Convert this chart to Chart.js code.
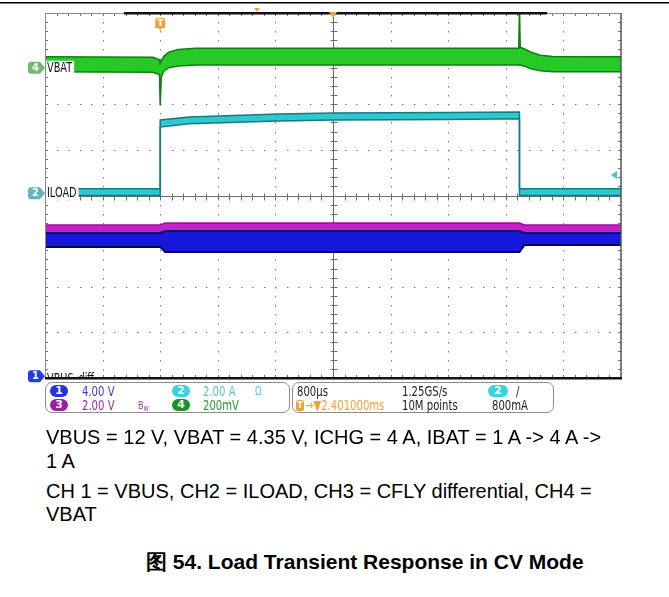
<!DOCTYPE html>
<html>
<head>
<meta charset="utf-8">
<script src="https://cdn.jsdelivr.net/npm/chart.js@4.4.0/dist/chart.umd.min.js"></script>
<style>
  html, body { margin: 0; padding: 0; background: #fff; }
  body { width: 669px; height: 597px; position: relative; overflow: hidden;
         font-family: "Liberation Sans", Arial, sans-serif; }
  #scope { position: absolute; left: 0; top: 0; }
  .box { position: absolute; top: 382px; height: 31px; box-sizing: border-box;
         border: 1.5px solid #8c8c8c; border-radius: 7px; background: #fff; }
  .bd { position: absolute; width: 18px; height: 12px; border-radius: 6px; color: #fff;
        font: bold 11px "DejaVu Sans", sans-serif; text-align: center; line-height: 12px; }
  .t { position: absolute; font: 14px "DejaVu Sans", sans-serif; line-height: 14px;
       transform: scaleX(0.72); transform-origin: 0 0; white-space: nowrap; }
  .cap { position: absolute; left: 46px; font-size: 20px; line-height: 24px; color: #000; white-space: nowrap; }
  .title { position: absolute; left: 146px; font-size: 21px; line-height: 24px; font-weight: bold; white-space: nowrap; }
</style>
</head>
<body>
<canvas id="scope" width="669" height="384"></canvas>

<div class="box" style="left:45px;width:245px;"></div>
<div class="box" style="left:292px;width:262px;"></div>

<div class="bd" style="left:50px;top:385px;background:#2334e0;">1</div>
<div class="bd" style="left:50px;top:399px;background:#9b1fa6;">3</div>
<div class="bd" style="left:172px;top:385px;background:#38d3dc;">2</div>
<div class="bd" style="left:172px;top:399px;background:#17942a;">4</div>
<div class="t" style="left:82px;top:384px;color:#3b3bd6;">4.00 V</div>
<div class="t" style="left:82px;top:398px;color:#9f2aa6;">2.00 V</div>
<div class="t" style="left:138px;top:399px;color:#a040a0;font-size:11px;">B<span style="font-size:9px;position:relative;top:2px">w</span></div>
<div class="t" style="left:203px;top:384px;color:#4cc9d2;">2.00 A</div>
<div class="t" style="left:255px;top:384px;color:#4cc9d2;font-size:12px;">Ω</div>
<div class="t" style="left:203px;top:398px;color:#279a30;">200mV</div>

<div class="t" style="left:297px;top:384px;color:#222;">800µs</div>
<div class="bd" style="left:296px;top:400px;width:8px;height:11px;border-radius:2px;background:#f0a23a;font-size:9px;line-height:11px;">T</div>
<div class="t" style="left:305px;top:398px;color:#f0a23a;">→▼2.401000ms</div>
<div class="t" style="left:402px;top:384px;color:#222;">1.25GS/s</div>
<div class="t" style="left:402px;top:398px;color:#222;">10M points</div>
<div class="bd" style="left:488px;top:385px;width:20px;background:#38d3dc;">2</div>
<div class="t" style="left:516px;top:384px;color:#222;">/</div>
<div class="t" style="left:492px;top:398px;color:#222;">800mA</div>

<div class="cap" style="top:425px;">VBUS = 12 V, VBAT = 4.35 V, ICHG = 4 A, IBAT = 1 A -&gt; 4 A -&gt;</div>
<div class="cap" style="top:449px;">1 A</div>
<div class="cap" style="top:479px;">CH 1 = VBUS, CH2 = ILOAD, CH3 = CFLY differential, CH4 =</div>
<div class="cap" style="top:502px;">VBAT</div>
<div class="title" style="top:550px;">图 54. Load Transient Response in CV Mode</div>

<script>
// Horizontal: 800 µs/div, trigger at t = 0 ms, screen spans 10 divisions
const TIME_PER_DIV = 0.8;       // ms
const T_MIN = -1.6, T_MAX = 6.4; // ms
const TRIGGER_DELAY = 2.4;      // ms, horizontal reference at screen centre
const TRIGGER_LEVEL = 0.8;      // A on CH2

// Vertical channel settings: CH1, CH2, CH3, CH4
const channelIds   = ['ch1', 'ch2', 'ch3', 'ch4'];
const unitsPerDiv  = [4, 2, 2, 0.2];        // V, A, V, V
const refValue     = [0, 0, 0, 4.35];       // value at the channel marker
const refDivision  = [-3.96, 0.05, -3.96, 2.80];

// CH1 VBUS (V): upper / lower envelope of the noisy trace
const vbusTime = [-1.6, 0, 0.07, 4.99, 5.06, 6.4];
const vbusHigh = [12.55, 12.55, 12.73, 12.73, 12.55, 12.55];
const vbusLow  = [11.32, 11.32, 10.88, 10.88, 11.50, 11.50];

// CH3 CFLY differential (V)
const cflyTime = [-1.6, 0, 0.07, 4.99, 5.06, 6.4];
const cflyHigh = [6.63, 6.63, 6.71, 6.71, 6.63, 6.63];
const cflyLow  = [6.01, 6.01, 6.10, 6.10, 6.01, 6.01];

// CH2 ILOAD (A)
const iloadTime = [-1.6, 0, 0, 0.4, 1.65, 2.4, 4.0, 4.99, 4.99, 6.4];
const iloadHigh = [0.20, 0.20, 3.21, 3.34, 3.47, 3.52, 3.54, 3.56, 0.20, 0.20];
const iloadLow  = [-0.10, -0.10, 2.90, 3.04, 3.17, 3.21, 3.23, 3.26, -0.10, -0.10];

// CH4 VBAT (V)
const vbatTime = [-1.6, -0.1, -0.01, 0, 0.015, 0.05, 0.12, 0.25, 0.5, 4.98, 4.99, 5.0, 5.06, 5.15, 5.28, 5.45, 6.4];
const vbatHigh = [4.398, 4.396, 4.385, 4.370, 4.380, 4.400, 4.418, 4.430, 4.436, 4.436, 4.620, 4.440, 4.432, 4.418, 4.405, 4.399, 4.398];
const vbatLow  = [4.332, 4.330, 4.320, 4.186, 4.310, 4.335, 4.350, 4.358, 4.362, 4.362, 4.360, 4.362, 4.357, 4.345, 4.337, 4.333, 4.332];

function band(name, axis, t, hi, lo, fillColor, edgeColor, w) {
  return [
    { label: name + ' low', yAxisID: axis, data: t.map((x, i) => ({ x, y: lo[i] })),
      borderColor: edgeColor, borderWidth: w, fill: false, clip: 0 },
    { label: name + ' high', yAxisID: axis, data: t.map((x, i) => ({ x, y: hi[i] })),
      borderColor: edgeColor, borderWidth: w, backgroundColor: fillColor, fill: '-1', clip: 0 }
  ];
}

const datasets = [
  ...band('CH1 VBUS', 'ch1', vbusTime, vbusHigh, vbusLow, '#1818dc', '#04045a', 2),
  ...band('CH3 CFLY', 'ch3', cflyTime, cflyHigh, cflyLow, '#c81fc8', '#9b1096', 1.5),
  ...band('CH2 ILOAD', 'ch2', iloadTime, iloadHigh, iloadLow, '#33c6cc', '#0f7c86', 1.5),
  ...band('CH4 VBAT', 'ch4', vbatTime, vbatHigh, vbatLow, '#27c927', '#0f7f10', 1.5)
];

const scales = {
  x: { type: 'linear', axis: 'x', position: 'bottom', min: T_MIN, max: T_MAX, display: false },
  grid: { type: 'linear', axis: 'y', position: 'left', min: -4, max: 4, display: false }
};
channelIds.forEach((id, i) => {
  scales[id] = {
    type: 'linear', axis: 'y', position: 'left', display: false,
    min: refValue[i] + (-4 - refDivision[i]) * unitsPerDiv[i],
    max: refValue[i] + (4 - refDivision[i]) * unitsPerDiv[i]
  };
});

function drawLabel(ctx, text, x, y, clipBottom) {
  ctx.save();
  ctx.font = '13.5px "DejaVu Sans", sans-serif';
  const w = ctx.measureText(text).width * 0.72;
  if (clipBottom !== undefined) {
    ctx.beginPath(); ctx.rect(0, 0, 669, clipBottom); ctx.clip();
  }
  ctx.fillStyle = '#fff';
  ctx.fillRect(x - 1, y - 7, w + 3, 14);
  ctx.translate(x, y);
  ctx.scale(0.72, 1);
  ctx.fillStyle = '#111';
  ctx.textBaseline = 'middle';
  ctx.fillText(text, 0, 0.5);
  ctx.restore();
}

function drawMarker(ctx, x0, y, color, text) {
  ctx.save();
  ctx.beginPath();
  ctx.moveTo(x0 + 3, y - 6);
  ctx.lineTo(x0 + 12, y - 6);
  ctx.lineTo(x0 + 17, y);
  ctx.lineTo(x0 + 12, y + 6);
  ctx.lineTo(x0 + 3, y + 6);
  ctx.quadraticCurveTo(x0, y + 6, x0, y + 3);
  ctx.lineTo(x0, y - 3);
  ctx.quadraticCurveTo(x0, y - 6, x0 + 3, y - 6);
  ctx.closePath();
  ctx.fillStyle = color;
  ctx.fill();
  ctx.fillStyle = '#fff';
  ctx.font = 'bold 10px "DejaVu Sans", sans-serif';
  ctx.textAlign = 'center';
  ctx.textBaseline = 'middle';
  ctx.fillText(text, x0 + 7.5, y + 0.5);
  ctx.restore();
}

const scopeDecor = {
  id: 'scopeDecor',
  beforeDatasetsDraw(chart) {
    const { ctx, chartArea: a, scales: s } = chart;
    const xs = s.x, gs = s.grid;
    ctx.save();
    // page rule across the top
    ctx.fillStyle = '#000';
    ctx.fillRect(0, 2, 669, 1.5);

    // dotted graticule
    ctx.fillStyle = '#7c7c7c';
    for (let i = 1; i < 10; i++) {
      if (i === 5) continue;
      const x = Math.round(xs.getPixelForValue(T_MIN + i * TIME_PER_DIV));
      for (let k = 1; k < 40; k++) {
        const y = Math.round(gs.getPixelForValue(-4 + k * 0.2));
        ctx.fillRect(x, y, 1, 1.5);
      }
    }
    for (let m = 1; m < 8; m++) {
      if (m === 4) continue;
      const y = Math.round(gs.getPixelForValue(-4 + m));
      for (let j = 1; j < 50; j++) {
        const x = Math.round(xs.getPixelForValue(T_MIN + j * TIME_PER_DIV / 5));
        ctx.fillRect(x, y, 1.5, 1);
      }
    }

    // centre crosshair with minor ticks
    const cx = Math.round(xs.getPixelForValue(T_MIN + 5 * TIME_PER_DIV)) + 0.5;
    const cy = Math.round(gs.getPixelForValue(0)) + 0.5;
    ctx.strokeStyle = '#6e6e6e';
    ctx.lineWidth = 1;
    ctx.beginPath();
    ctx.moveTo(cx, a.top); ctx.lineTo(cx, a.bottom);
    ctx.moveTo(a.left, cy); ctx.lineTo(a.right, cy);
    for (let k = 1; k < 40; k++) {
      const y = Math.round(gs.getPixelForValue(-4 + k * 0.2)) + 0.5;
      ctx.moveTo(cx - 3, y); ctx.lineTo(cx + 4, y);
      ctx.moveTo(a.left, y); ctx.lineTo(a.left + 3, y);
      ctx.moveTo(a.right - 3, y); ctx.lineTo(a.right, y);
    }
    for (let j = 1; j < 50; j++) {
      const x = Math.round(xs.getPixelForValue(T_MIN + j * TIME_PER_DIV / 5)) + 0.5;
      ctx.moveTo(x, cy - 3); ctx.lineTo(x, cy + 4);
      ctx.moveTo(x, a.top); ctx.lineTo(x, a.top + 3);
      ctx.moveTo(x, a.bottom - 3); ctx.lineTo(x, a.bottom);
    }
    ctx.stroke();
    ctx.restore();
  },
  afterDatasetsDraw(chart) {
    const { ctx, chartArea: a, scales: s } = chart;
    const xs = s.x;
    ctx.save();

    // channel labels inside the graticule
    drawLabel(ctx, 'VBAT', a.left + 2, s.ch4.getPixelForValue(refValue[3]));
    drawLabel(ctx, 'ILOAD', a.left + 2, s.ch2.getPixelForValue(refValue[1]));
    drawLabel(ctx, 'VBUS_diff', a.left + 2, s.ch1.getPixelForValue(refValue[0]) + 3, a.bottom);

    // graticule frame
    ctx.strokeStyle = '#8a8a8a';
    ctx.lineWidth = 1;
    ctx.beginPath();
    ctx.moveTo(a.left + 0.5, a.top); ctx.lineTo(a.left + 0.5, a.bottom);
    ctx.moveTo(a.left, a.top + 0.5); ctx.lineTo(a.right, a.top + 0.5);
    ctx.stroke();
    ctx.strokeStyle = '#555';
    ctx.lineWidth = 1.5;
    ctx.beginPath();
    ctx.moveTo(a.right, a.top); ctx.lineTo(a.right, a.bottom);
    ctx.stroke();
    ctx.fillStyle = '#111';
    ctx.fillRect(a.left, a.bottom - 1, a.right - a.left + 1, 2.5);
    // record view bar along the top edge
    ctx.fillRect(124, a.top - 1, 423, 2.5);
    ctx.fillStyle = '#f0a23a';
    ctx.beginPath();
    ctx.moveTo(254, 8); ctx.lineTo(260, 8); ctx.lineTo(257, 12); ctx.closePath(); ctx.fill();

    // horizontal reference marker at the top centre
    const hx = xs.getPixelForValue(TRIGGER_DELAY);
    ctx.beginPath();
    ctx.moveTo(hx - 4, a.top - 1); ctx.lineTo(hx + 4, a.top - 1); ctx.lineTo(hx, a.top + 5); ctx.closePath();
    ctx.fill();

    // trigger position "T"
    const tx = xs.getPixelForValue(0);
    ctx.beginPath();
    ctx.moveTo(tx - 5, 20);
    ctx.quadraticCurveTo(tx - 5, 18, tx - 3, 18);
    ctx.lineTo(tx + 3, 18);
    ctx.quadraticCurveTo(tx + 5, 18, tx + 5, 20);
    ctx.lineTo(tx + 5, 28); ctx.lineTo(tx + 1.5, 28); ctx.lineTo(tx, 31); ctx.lineTo(tx - 1.5, 28);
    ctx.lineTo(tx - 5, 28); ctx.closePath();
    ctx.fill();
    ctx.fillStyle = '#fff';
    ctx.font = 'bold 9px "DejaVu Sans", sans-serif';
    ctx.textAlign = 'center';
    ctx.textBaseline = 'middle';
    ctx.fillText('T', tx, 23.5);

    // trigger level arrow (CH2)
    const ty = s.ch2.getPixelForValue(TRIGGER_LEVEL);
    ctx.fillStyle = '#3cc8d0';
    ctx.beginPath();
    ctx.moveTo(a.right - 10, ty); ctx.lineTo(a.right - 4, ty - 4); ctx.lineTo(a.right - 4, ty + 4); ctx.closePath();
    ctx.fill();
    ctx.restore();

    // channel ground / offset markers
    drawMarker(ctx, 28, s.ch4.getPixelForValue(refValue[3]), '#72b872', '4');
    drawMarker(ctx, 28, s.ch2.getPixelForValue(refValue[1]), '#62b6c0', '2');
    drawMarker(ctx, 28, s.ch1.getPixelForValue(refValue[0]), '#2040e0', '1');
  }
};

new Chart(document.getElementById('scope'), {
  type: 'line',
  data: { datasets },
  options: {
    responsive: false,
    devicePixelRatio: 1,
    animation: false,
    layout: { padding: { left: 45, top: 13, right: 48, bottom: 6 } },
    scales,
    elements: { line: { tension: 0 }, point: { radius: 0, hoverRadius: 0 } },
    plugins: { legend: { display: false }, tooltip: { enabled: false } },
    events: []
  },
  plugins: [scopeDecor]
});
</script>
</body>
</html>
